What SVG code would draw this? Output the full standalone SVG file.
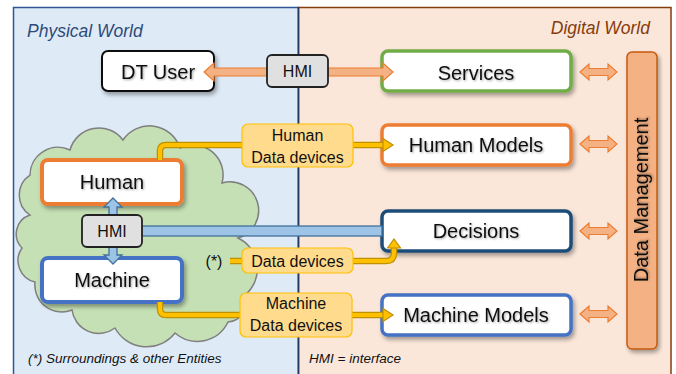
<svg xmlns="http://www.w3.org/2000/svg" width="676" height="374" viewBox="0 0 676 374">
<defs>
<filter id="sh" x="-20%" y="-20%" width="140%" height="150%"><feDropShadow dx="2" dy="3" stdDeviation="2" flood-color="#000" flood-opacity="0.35"/></filter>
<filter id="tsh" x="-10%" y="-20%" width="120%" height="150%"><feDropShadow dx="1" dy="1" stdDeviation="0.8" flood-color="#000" flood-opacity="0.35"/></filter>
<polygon id="dbl" points="0,0 9,-8 9,-3.5 28,-3.5 28,-8 37,0 28,8 28,3.5 9,3.5 9,8" class="oarrow"/>
<style>
text{font-family:"Liberation Sans",Arial,sans-serif;fill:#111}
.node{fill:#fff;filter:url(#sh)}
.nt{font-size:20px;text-anchor:middle;filter:url(#tsh)}
.lab{fill:#FFDB8E;stroke:#FFC000;stroke-width:1.2}
.lt{font-size:16px;text-anchor:middle}
.hmi{fill:#E0E0E0;stroke:#222;stroke-width:1.8}
.oarrow{fill:#F4B183;stroke:#ED7D31;stroke-width:1.2}
.barrow{fill:#9DC3E6;stroke:#41719C;stroke-width:1.3}
.gold-o{fill:none;stroke:#BF9000;stroke-width:6.5}
.gold-i{fill:none;stroke:#FFC000;stroke-width:4}
.gh{fill:#FFC000;stroke:#BF9000;stroke-width:1.2}
.it{font-style:italic}
</style>
</defs>
<g id="panels">
<rect x="13.5" y="7.5" width="285" height="380" fill="#DEEBF7" stroke="#2F5597" stroke-width="1.5"/>
<rect x="298.5" y="7.5" width="372.5" height="380" fill="#FBE7DA" stroke="#843C0C" stroke-width="1.5"/>
<line x1="298.5" y1="7.5" x2="298.5" y2="374" stroke="#203864" stroke-width="1.5"/>
<text x="27" y="37" class="it" font-size="17.5" style="fill:#2F4A7A">Physical World</text>
<text x="650" y="34" class="it" font-size="17.5" text-anchor="end" style="fill:#843C0C">Digital World</text>
<text x="28" y="363" class="it" font-size="13.5">(*) Surroundings &amp; other Entities</text>
<text x="309" y="363" class="it" font-size="13.5">HMI = interface</text>
</g>
<g id="cloud">
<path d="M30,215 A24,24 0 0 1 30,175 A28,28 0 0 1 70,150 A30,30 0 0 1 123,140 A32,32 0 0 1 180,148 A30,30 0 0 1 222,183 A28,28 0 0 1 238,238 A34,34 0 0 1 245,295 A20,20 0 0 1 228,322 A34,34 0 0 1 175,333 A36,36 0 0 1 115,328 A27,27 0 0 1 72,310 A27,27 0 0 1 35,282 A22,22 0 0 1 22,248 A20,20 0 0 1 30,215 Z" fill="#C5E0B4" stroke="#7F7F7F" stroke-width="1.5"/>
</g>
<g id="dt-user"><rect x="102" y="51" width="112" height="40" rx="6" class="node" stroke="#111" stroke-width="2"/><text x="158" y="79" class="nt">DT User</text></g>
<g id="services"><rect x="382" y="51" width="189" height="40" rx="6" class="node" stroke="#70AD47" stroke-width="3.5"/><text x="476" y="80" class="nt">Services</text></g>
<g id="human-models"><rect x="382" y="125" width="189" height="40" rx="6" class="node" stroke="#ED7D31" stroke-width="3.5"/><text x="476" y="152" class="nt" font-size="21">Human Models</text></g>
<g id="decisions"><rect x="382" y="211" width="189" height="40" rx="6" class="node" stroke="#1F4E79" stroke-width="3.5"/><text x="476" y="238" class="nt">Decisions</text></g>
<g id="machine-models"><rect x="382" y="295" width="189" height="40" rx="6" class="node" stroke="#4472C4" stroke-width="3.5"/><text x="476" y="322" class="nt" font-size="21">Machine Models</text></g>
<g id="data-management"><rect x="627" y="52" width="30" height="297" rx="5" fill="#F4B183" stroke="#C55A11" stroke-width="1.5" filter="url(#sh)"/><text transform="translate(648,200) rotate(-90)" class="nt" font-size="21">Data Management</text></g>
<g id="human"><rect x="42" y="160" width="140" height="44" rx="6" class="node" stroke="#ED7D31" stroke-width="4"/><text x="112" y="189" class="nt" font-size="21">Human</text></g>
<g id="machine"><rect x="42" y="258" width="140" height="44" rx="6" class="node" stroke="#4472C4" stroke-width="4"/><text x="112" y="287" class="nt" font-size="21">Machine</text></g>
<g id="connectors">
<polygon class="oarrow" points="204,72 214,63 214,68 267,68 267,76 214,76 214,81"/>
<polygon class="oarrow" points="328,68 383,68 383,63 393,72 383,81 383,76 328,76"/>
<use href="#dbl" x="580" y="72"/>
<use href="#dbl" x="580" y="144"/>
<use href="#dbl" x="580" y="231"/>
<use href="#dbl" x="580" y="314"/>
<polygon class="barrow" points="113,198 122,207 117,207 117,255 122,255 113,264 104,255 109,255 109,207 104,207"/>
<rect class="barrow" x="142" y="226" width="240" height="10"/>
<path class="gold-o" d="M160,160 V151 Q160,145 166,145 H243"/>
<path class="gold-i" d="M160,160 V151 Q160,145 166,145 H243"/>
<path class="gold-o" d="M353,145 H384"/>
<path class="gold-i" d="M353,145 H384"/>
<polygon class="gh" points="383,138.5 393,145 383,151.5"/>
<path class="gold-o" d="M160,302 V309 Q160,315 166,315 H241"/>
<path class="gold-i" d="M160,302 V309 Q160,315 166,315 H241"/>
<path class="gold-o" d="M352,315 H384"/>
<path class="gold-i" d="M352,315 H384"/>
<polygon class="gh" points="383,308.5 393,315 383,321.5"/>
<path class="gold-o" d="M230,261 H243"/>
<path class="gold-i" d="M230,261 H243"/>
<path class="gold-o" d="M353,261 H386 Q394,261 394,253 V247"/>
<path class="gold-i" d="M353,261 H386 Q394,261 394,253 V247"/>
<polygon class="gh" points="387.5,248 394,239 400.5,248"/>
</g>
<g id="hmi-top"><rect x="267" y="55" width="61" height="32" rx="5" class="hmi"/><text x="297.5" y="77" class="lt">HMI</text></g>
<g id="hmi-middle"><rect x="82" y="215" width="60" height="32" rx="5" class="hmi"/><text x="112" y="237" class="lt">HMI</text></g>
<g id="human-data-devices"><rect x="242" y="124" width="111" height="43" rx="6" class="lab"/><text x="297.5" y="141" class="lt">Human</text><text x="297.5" y="163" class="lt">Data devices</text></g>
<g id="data-devices"><text x="214" y="267" class="lt">(*)</text><rect x="242" y="248" width="111" height="25" rx="6" class="lab"/><text x="297.5" y="267" class="lt">Data devices</text></g>
<g id="machine-data-devices"><rect x="240" y="293" width="112" height="44" rx="6" class="lab"/><text x="296" y="309" class="lt">Machine</text><text x="296" y="331" class="lt">Data devices</text></g>
</svg>
